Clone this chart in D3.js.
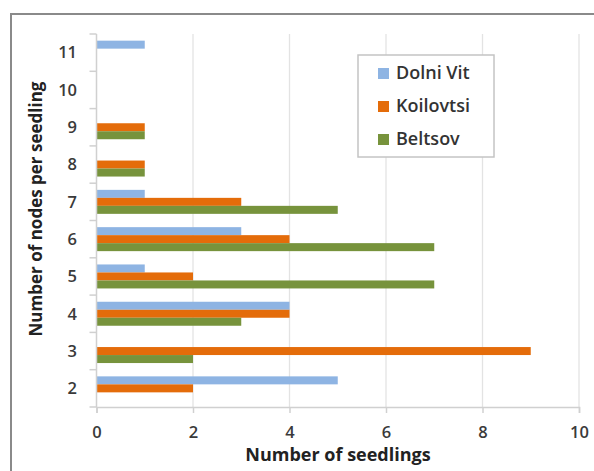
<!DOCTYPE html>
<html>
<head>
<meta charset="utf-8">
<script src="https://cdn.jsdelivr.net/npm/d3@7/dist/d3.min.js"></script>
<style>
  html, body { margin: 0; padding: 0; background: #fff; }
  svg { display: block; }
</style>
</head>
<body>
<svg id="chart" width="594" height="471"></svg>
<script>
// Node counts per seedling (bottom to top on the axis)
const categories = ["2", "3", "4", "5", "6", "7", "8", "9", "10", "11"];
const seriesNames = ["Dolni Vit", "Koilovtsi", "Beltsov"];
const dolniVit  = [5, 0, 4, 1, 3, 1, 0, 0, 0, 1];
const koilovtsi = [2, 9, 4, 2, 4, 3, 1, 1, 0, 0];
const beltsov   = [0, 2, 3, 7, 7, 5, 1, 1, 0, 0];
const xTicks = [0, 2, 4, 6, 8, 10];
const colors = ["#8EB4E3", "#E46C0A", "#77933C"];

const seriesValues = [dolniVit, koilovtsi, beltsov];
const rows = categories.map((c, i) => ({
  cat: c,
  vals: seriesNames.map((s, j) => ({ name: s, value: seriesValues[j][i] }))
}));

const svg = d3.select("#chart");
const font = "'Open Sans', 'DejaVu Sans', sans-serif";

// outer frame
svg.append("rect")
  .attr("x", 11).attr("y", 14)
  .attr("width", 600).attr("height", 470)
  .attr("fill", "none").attr("stroke", "#8a8a8a").attr("stroke-width", 2);

const plotLeft = 96.5, plotRight = 579, plotTop = 34, plotBottom = 407;

const x = d3.scaleLinear().domain([0, 10]).range([plotLeft, plotRight]);
const y = d3.scaleBand().domain(categories.slice().reverse())
  .range([plotTop, plotBottom]).paddingInner(0.357).paddingOuter(0.1785);
const ySub = d3.scaleBand().domain(seriesNames).range([0, y.bandwidth()]);

// vertical gridlines
svg.append("g").selectAll("line")
  .data(xTicks.filter(t => t > 0))
  .join("line")
  .attr("x1", d => x(d)).attr("x2", d => x(d))
  .attr("y1", plotTop).attr("y2", plotBottom)
  .attr("stroke", "#e3e3e3").attr("stroke-width", 1.3);

// bars
const groups = svg.append("g").selectAll("g")
  .data(rows)
  .join("g")
  .attr("transform", d => `translate(0,${y(d.cat)})`);

groups.selectAll("rect")
  .data(d => d.vals)
  .join("rect")
  .attr("x", x(0))
  .attr("y", d => ySub(d.name))
  .attr("width", d => x(d.value) - x(0))
  .attr("height", ySub.bandwidth())
  .attr("fill", (d, i) => colors[i]);

// x axis
const xAxis = svg.append("g")
  .attr("transform", `translate(0,${plotBottom})`)
  .call(d3.axisBottom(x).tickValues(xTicks).tickSize(6).tickPadding(8).tickFormat(d3.format("d")));
xAxis.select(".domain").attr("stroke", "#d0d0d0").attr("stroke-width", 1.5);
xAxis.selectAll(".tick line").attr("stroke", "#d0d0d0").attr("stroke-width", 1.5);
xAxis.selectAll(".tick text")
  .attr("y", 25).attr("dy", "0.35em")
  .attr("font-family", font).attr("font-size", 16.5).attr("font-weight", 600)
  .attr("fill", "#3a3a3a");

// y axis: ticks at category boundaries, labels centred in each band
const yg = svg.append("g");
yg.append("line")
  .attr("x1", plotLeft).attr("x2", plotLeft).attr("y1", plotTop).attr("y2", plotBottom)
  .attr("stroke", "#d0d0d0").attr("stroke-width", 1.5);
const step = y.step();
const boundaries = d3.range(categories.length + 1).map(i => plotTop + i * step);
yg.selectAll("line.tk")
  .data(boundaries)
  .join("line").attr("class", "tk")
  .attr("x1", plotLeft - 7).attr("x2", plotLeft)
  .attr("y1", d => d).attr("y2", d => d)
  .attr("stroke", "#d0d0d0").attr("stroke-width", 1.5);
yg.selectAll("text")
  .data(categories)
  .join("text")
  .attr("x", 77)
  .attr("y", d => y(d) + y.bandwidth() / 2)
  .attr("dy", "0.35em")
  .attr("text-anchor", "end")
  .attr("font-family", font).attr("font-size", 16.5).attr("font-weight", 600)
  .attr("fill", "#3a3a3a")
  .text(d => d);

// axis titles
svg.append("text")
  .attr("x", 338).attr("y", 455)
  .attr("dy", "0.35em")
  .attr("text-anchor", "middle")
  .attr("font-family", font).attr("font-size", 18).attr("font-weight", 700)
  .attr("fill", "#222")
  .text("Number of seedlings");

svg.append("text")
  .attr("transform", `translate(36,209) rotate(-90)`)
  .attr("dy", "0.35em")
  .attr("text-anchor", "middle")
  .attr("font-family", font).attr("font-size", 17).attr("font-weight", 700)
  .attr("fill", "#222")
  .text("Number of nodes per seedling");

// legend
const lg = svg.append("g");
lg.append("rect")
  .attr("x", 358).attr("y", 55).attr("width", 136).attr("height", 102)
  .attr("fill", "#fff").attr("stroke", "#c4c4c4").attr("stroke-width", 1.5);
const items = lg.selectAll("g.item")
  .data(seriesNames)
  .join("g").attr("class", "item")
  .attr("transform", (d, i) => `translate(378,${73 + i * 33})`);
items.append("rect")
  .attr("x", 0).attr("y", -5).attr("width", 11).attr("height", 11)
  .attr("fill", (d, i) => colors[i]);
items.append("text")
  .attr("x", 18).attr("y", 0).attr("dy", "0.35em")
  .attr("font-family", font).attr("font-size", 18).attr("font-weight", 600)
  .attr("fill", "#333")
  .text(d => d);
</script>
</body>
</html>
